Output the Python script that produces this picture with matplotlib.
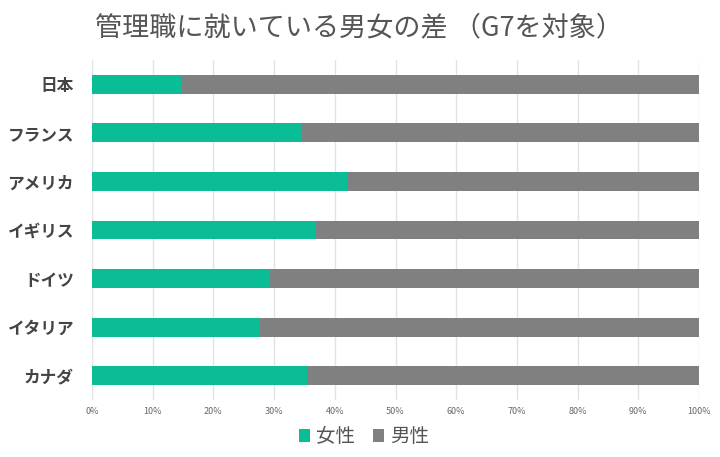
import matplotlib.pyplot as plt
from matplotlib.ticker import FuncFormatter

plt.rcParams['font.family'] = ['Noto Sans CJK JP', 'DejaVu Sans']

countries = ['日本', 'フランス', 'アメリカ', 'イギリス', 'ドイツ', 'イタリア', 'カナダ']
female = [14.7, 34.6, 42.2, 36.9, 29.3, 27.7, 35.4]
male = [100 - v for v in female]

teal = '#0bbd96'
gray = '#808080'

fig = plt.figure(figsize=(7.2, 4.57), dpi=100)
ax = fig.add_axes([92/720, 1 - 400/457, 607/720, 340/457])

y = list(range(len(countries)))
ax.barh(y, female, height=0.39, color=teal, label='女性', zorder=3)
ax.barh(y, male, left=female, height=0.39, color=gray, label='男性', zorder=3)

ax.set_xlim(0, 100)
ax.set_ylim(len(countries) - 0.5, -0.5)
ax.set_xticks(range(0, 101, 10))
ax.xaxis.set_major_formatter(FuncFormatter(lambda v, p: f'{int(v)}%'))
ax.tick_params(axis='x', labelsize=6.5, labelcolor='#666666', length=0, pad=5)
ax.set_yticks(y)
ax.set_yticklabels(countries, fontsize=12, fontweight='bold', color='#444444')
ax.tick_params(axis='y', length=0, pad=13)
ax.grid(axis='x', color='#e3e3e3', linewidth=1, zorder=0)
for s in ax.spines.values():
    s.set_visible(False)

fig.text(95/720, 1 - 28/457, '管理職に就いている男女の差 （G7を対象）', fontsize=19.5,
         color='#555555', va='center', ha='left')

leg = fig.legend(loc='center', bbox_to_anchor=(364/720, 1 - 437/457), ncol=2,
                 frameon=False, fontsize=14, handlelength=0.6, handleheight=0.6,
                 handletextpad=0.3, columnspacing=0.9)
for t in leg.get_texts():
    t.set_color('#555555')

fig.savefig('out.png', dpi=100)
